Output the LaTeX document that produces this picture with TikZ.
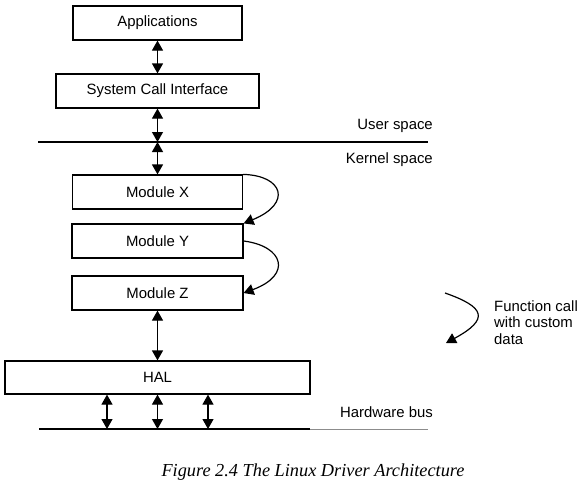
\documentclass[tikz,border=0pt]{standalone}
\usepackage{fontspec}
\setmainfont{Liberation Sans}
\newfontfamily\capfont{Liberation Serif}
\usetikzlibrary{arrows.meta}
\begin{document}
\begin{tikzpicture}[x=1pt,y=-1pt,
  font=\fontsize{14.9}{16.5}\selectfont,
  box/.style={draw,line width=1.2pt,inner sep=0pt,minimum height=34pt},
  dbl/.style={{Triangle[length=10pt,width=11pt]}-{Triangle[length=10pt,width=11pt]},line width=1.2pt},
  fc/.style={-{Triangle[length=10pt,width=11pt]},line width=1.2pt},
  sep/.style={line width=1.3pt},
  lbl/.style={anchor=base east,inner sep=0pt}]
\useasboundingbox[fill=white] (0,0) rectangle (584,496);
\node[box,minimum width=169pt] (A) at (157.5,23) {Applications};
\node[box,minimum width=203pt] (S) at (157.5,91) {System Call Interface};
\node[box,minimum width=170pt] (X) at (157.5,192) {Module X};
\node[box,minimum width=171pt] (Y) at (157.5,241) {Module Y};
\node[box,minimum width=171pt] (Z) at (157.5,293) {Module Z};
\node[box,minimum width=305pt,minimum height=33pt] (H) at (157.5,377.5) {HAL};
% user/kernel separator
\coordinate (ul0) at (38,142);
\coordinate (ul1) at (428,142);
\coordinate (um) at (157.5,142);
\draw[sep] (ul0) -- (ul1);
\node[lbl] (us) at (433,129) {User space};
\node[lbl] (ks) at (433,163) {Kernel space};
% hardware bus
\coordinate (hb0) at (39,429);
\coordinate (hb1) at (310,429);
\coordinate (hb2) at (428,429);
\draw[sep] (hb0) -- (hb1);
\draw[line width=0.8pt,black!45] (hb1) -- (hb2);
\node[lbl] (hw) at (433,417) {Hardware bus};
% vertical arrows
\draw[dbl] (A.south) -- (S.north);
\draw[dbl] (S.south) -- (um);
\draw[dbl] (um) -- (X.north);
\draw[dbl] (Z.south) -- (H.north);
\coordinate (b1) at (107,429);
\coordinate (b2) at (157.5,429);
\coordinate (b3) at (208,429);
\draw[dbl] (b1 |- H.south) -- (b1);
\draw[dbl] (b2 |- H.south) -- (b2);
\draw[dbl] (b3 |- H.south) -- (b3);
% function calls
\draw[fc] (X.north east) .. controls +(40,1) and +(49,-20) .. (Y.north east);
\draw[fc] (Y.east) .. controls +(40,5) and +(49,-18) .. (Z.east);
% legend
\coordinate (l0) at (445,293);
\coordinate (l1) at (446,343);
\draw[fc] (l0) .. controls +(40,14) and +(44,-24) .. (l1);
\node[anchor=north west,align=left,inner sep=0pt] (lt) at (494,300) {Function call\\with custom\\data};
% caption
\node[anchor=base,inner sep=0pt,font=\capfont\itshape\fontsize{18.3}{20}\selectfont] (cap) at (313,476) {Figure 2.4 The Linux Driver Architecture};
\end{tikzpicture}
\end{document}
